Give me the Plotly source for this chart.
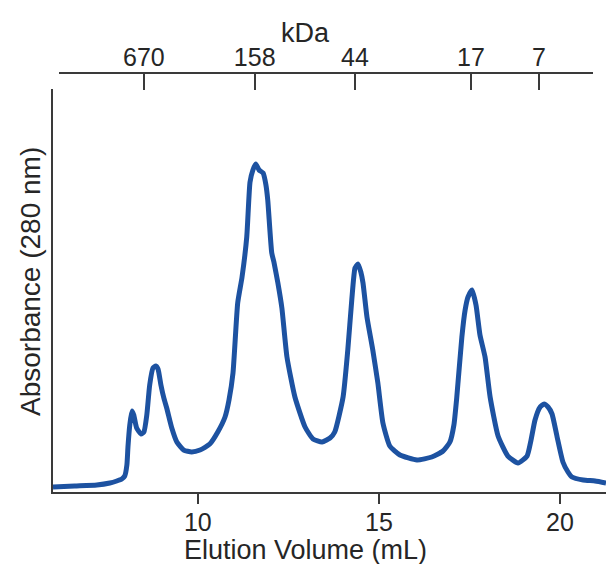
import plotly.graph_objects as go

# Size-exclusion chromatogram: elution volume (mL) vs. absorbance at 280 nm (arbitrary units)
elution_ml = [
    6.00, 6.60, 7.21, 7.57, 7.76, 7.90, 7.98, 8.04, 8.07, 8.12,
    8.18, 8.23, 8.31, 8.43, 8.51, 8.59, 8.67, 8.76, 8.84, 8.90,
    8.98, 9.06, 9.14, 9.28, 9.42, 9.61, 9.83, 10.06, 10.33, 10.55,
    10.75, 10.86, 10.97, 11.10, 11.22, 11.35, 11.44, 11.52, 11.60, 11.69,
    11.80, 11.88, 11.93, 12.04, 12.10, 12.21, 12.32, 12.46, 12.68, 12.96,
    13.18, 13.43, 13.65, 13.78, 14.01, 14.14, 14.25, 14.34, 14.42, 14.50,
    14.56, 14.67, 14.83, 14.97, 15.11, 15.30, 15.58, 16.05, 16.46, 16.77,
    16.96, 17.07, 17.15, 17.29, 17.38, 17.46, 17.57, 17.68, 17.79, 17.93,
    18.07, 18.29, 18.56, 18.84, 19.09, 19.20, 19.31, 19.45, 19.56, 19.67,
    19.78, 19.92, 20.08, 20.22, 20.33, 20.64, 20.97, 21.27,
]
absorbance = [
    1.24, 1.49, 1.74, 2.23, 2.73, 3.23, 3.97, 6.70, 11.17, 16.63,
    20.10, 19.11, 15.88, 14.39, 14.89, 19.11, 26.55, 30.77, 31.27, 30.52,
    26.55, 23.33, 20.84, 15.88, 12.41, 10.42, 9.93, 10.42, 11.91, 14.89,
    18.61, 22.83, 29.53, 46.90, 53.35, 63.28, 76.92, 79.90, 81.39, 79.90,
    79.16, 76.18, 72.46, 59.31, 57.07, 51.86, 45.66, 33.50, 23.57, 16.13,
    13.15, 12.41, 13.40, 14.89, 23.57, 35.24, 47.64, 55.58, 56.58, 54.59,
    51.86, 43.42, 35.24, 27.05, 17.12, 11.41, 9.18, 7.94, 8.68, 10.17,
    12.41, 16.63, 23.57, 38.46, 45.16, 48.39, 50.12, 46.40, 38.96, 33.50,
    23.57, 13.90, 8.93, 7.20, 8.93, 12.90, 17.87, 21.09, 21.84, 21.09,
    19.35, 13.65, 7.44, 4.96, 3.72, 2.98, 2.73, 2.23,
]

# Molecular-weight standards: elution position (mL) and mass label (kDa)
standard_ml = [8.51, 11.57, 14.34, 17.54, 19.42]
standard_kda = ["670", "158", "44", "17", "7"]

volume_ticks = [10, 15, 20]

FONT = "Liberation Sans, Arial, sans-serif"
INK = "#262626"
AXIS = "#3a3a3a"
TRACE = "#1d52a1"

W, H = 606, 564
M_L, M_R, M_T, M_B = 53, 0, 73, 72
plot_w = W - M_L - M_R
plot_h = H - M_T - M_B

x_range = [6.0, 21.27]
y_range = [0, 100]

# left axis line stops a little below the kDa axis
y_top_frac = (plot_h - 16) / plot_h

# kDa axis line is slightly inset from the plot edges; its range keeps the
# same mL-per-pixel scale as the elution-volume axis
top_d0, top_d1 = 6 / plot_w, 540 / plot_w
span = x_range[1] - x_range[0]
top_range = [x_range[0] + top_d0 * span, x_range[0] + top_d1 * span]

fig = go.Figure()
# invisible carrier so the kDa axis is rendered
fig.add_trace(go.Scatter(
    x=standard_ml, y=[None] * len(standard_ml), xaxis="x2", yaxis="y",
    mode="markers", showlegend=False, hoverinfo="skip",
))
fig.add_trace(go.Scatter(
    x=elution_ml, y=absorbance, mode="lines",
    line=dict(color=TRACE, width=5, shape="spline", smoothing=0.5),
    hoverinfo="skip", showlegend=False, cliponaxis=False,
))

fig.update_layout(
    width=W, height=H,
    margin=dict(l=M_L, r=M_R, t=M_T, b=M_B),
    paper_bgcolor="white", plot_bgcolor="rgba(0,0,0,0)",
    font=dict(family=FONT, color=INK, size=25),
    xaxis=dict(
        range=x_range, domain=[0, 1],
        tickvals=volume_ticks, ticktext=[str(v) for v in volume_ticks],
        ticks="outside", ticklen=10, tickwidth=1.6, tickcolor=AXIS,
        ticklabelstandoff=-3,
        showline=True, linecolor=AXIS, linewidth=1.6,
        showgrid=False, zeroline=False,
        tickfont=dict(size=25, family=FONT, color=INK),
    ),
    xaxis2=dict(
        side="top", anchor="free", position=1,
        domain=[top_d0, top_d1], range=top_range,
        tickvals=standard_ml, ticktext=standard_kda,
        ticks="inside", ticklen=16, tickwidth=1.6, tickcolor=AXIS,
        ticklabelstandoff=-4,
        showline=True, linecolor=AXIS, linewidth=1.6,
        showgrid=False, zeroline=False,
        tickfont=dict(size=25, family=FONT, color=INK),
    ),
    yaxis=dict(
        range=y_range, domain=[0, y_top_frac],
        showline=True, linecolor=AXIS, linewidth=1.6,
        showticklabels=False, ticks="",
        showgrid=False, zeroline=False,
    ),
    annotations=[
        dict(text="Elution Volume (mL)", x=305, y=H - 550, xref="paper", yref="paper",
             showarrow=False, font=dict(size=27, family=FONT, color=INK)),
        dict(text="kDa", x=305, y=H - 33, xref="paper", yref="paper",
             showarrow=False, font=dict(size=27, family=FONT, color=INK)),
        dict(text="Absorbance (280 nm)", x=30, y=H - 282, xref="paper", yref="paper",
             textangle=-90, showarrow=False, font=dict(size=28, family=FONT, color=INK)),
    ],
)

# annotation coordinates above are given in pixels; convert to paper fractions
for ann in fig.layout.annotations:
    ann.x = (ann.x - M_L) / plot_w
    ann.y = (ann.y - M_B) / plot_h
    ann.xanchor = "center"
    ann.yanchor = "middle"

fig.write_html("out.html")
